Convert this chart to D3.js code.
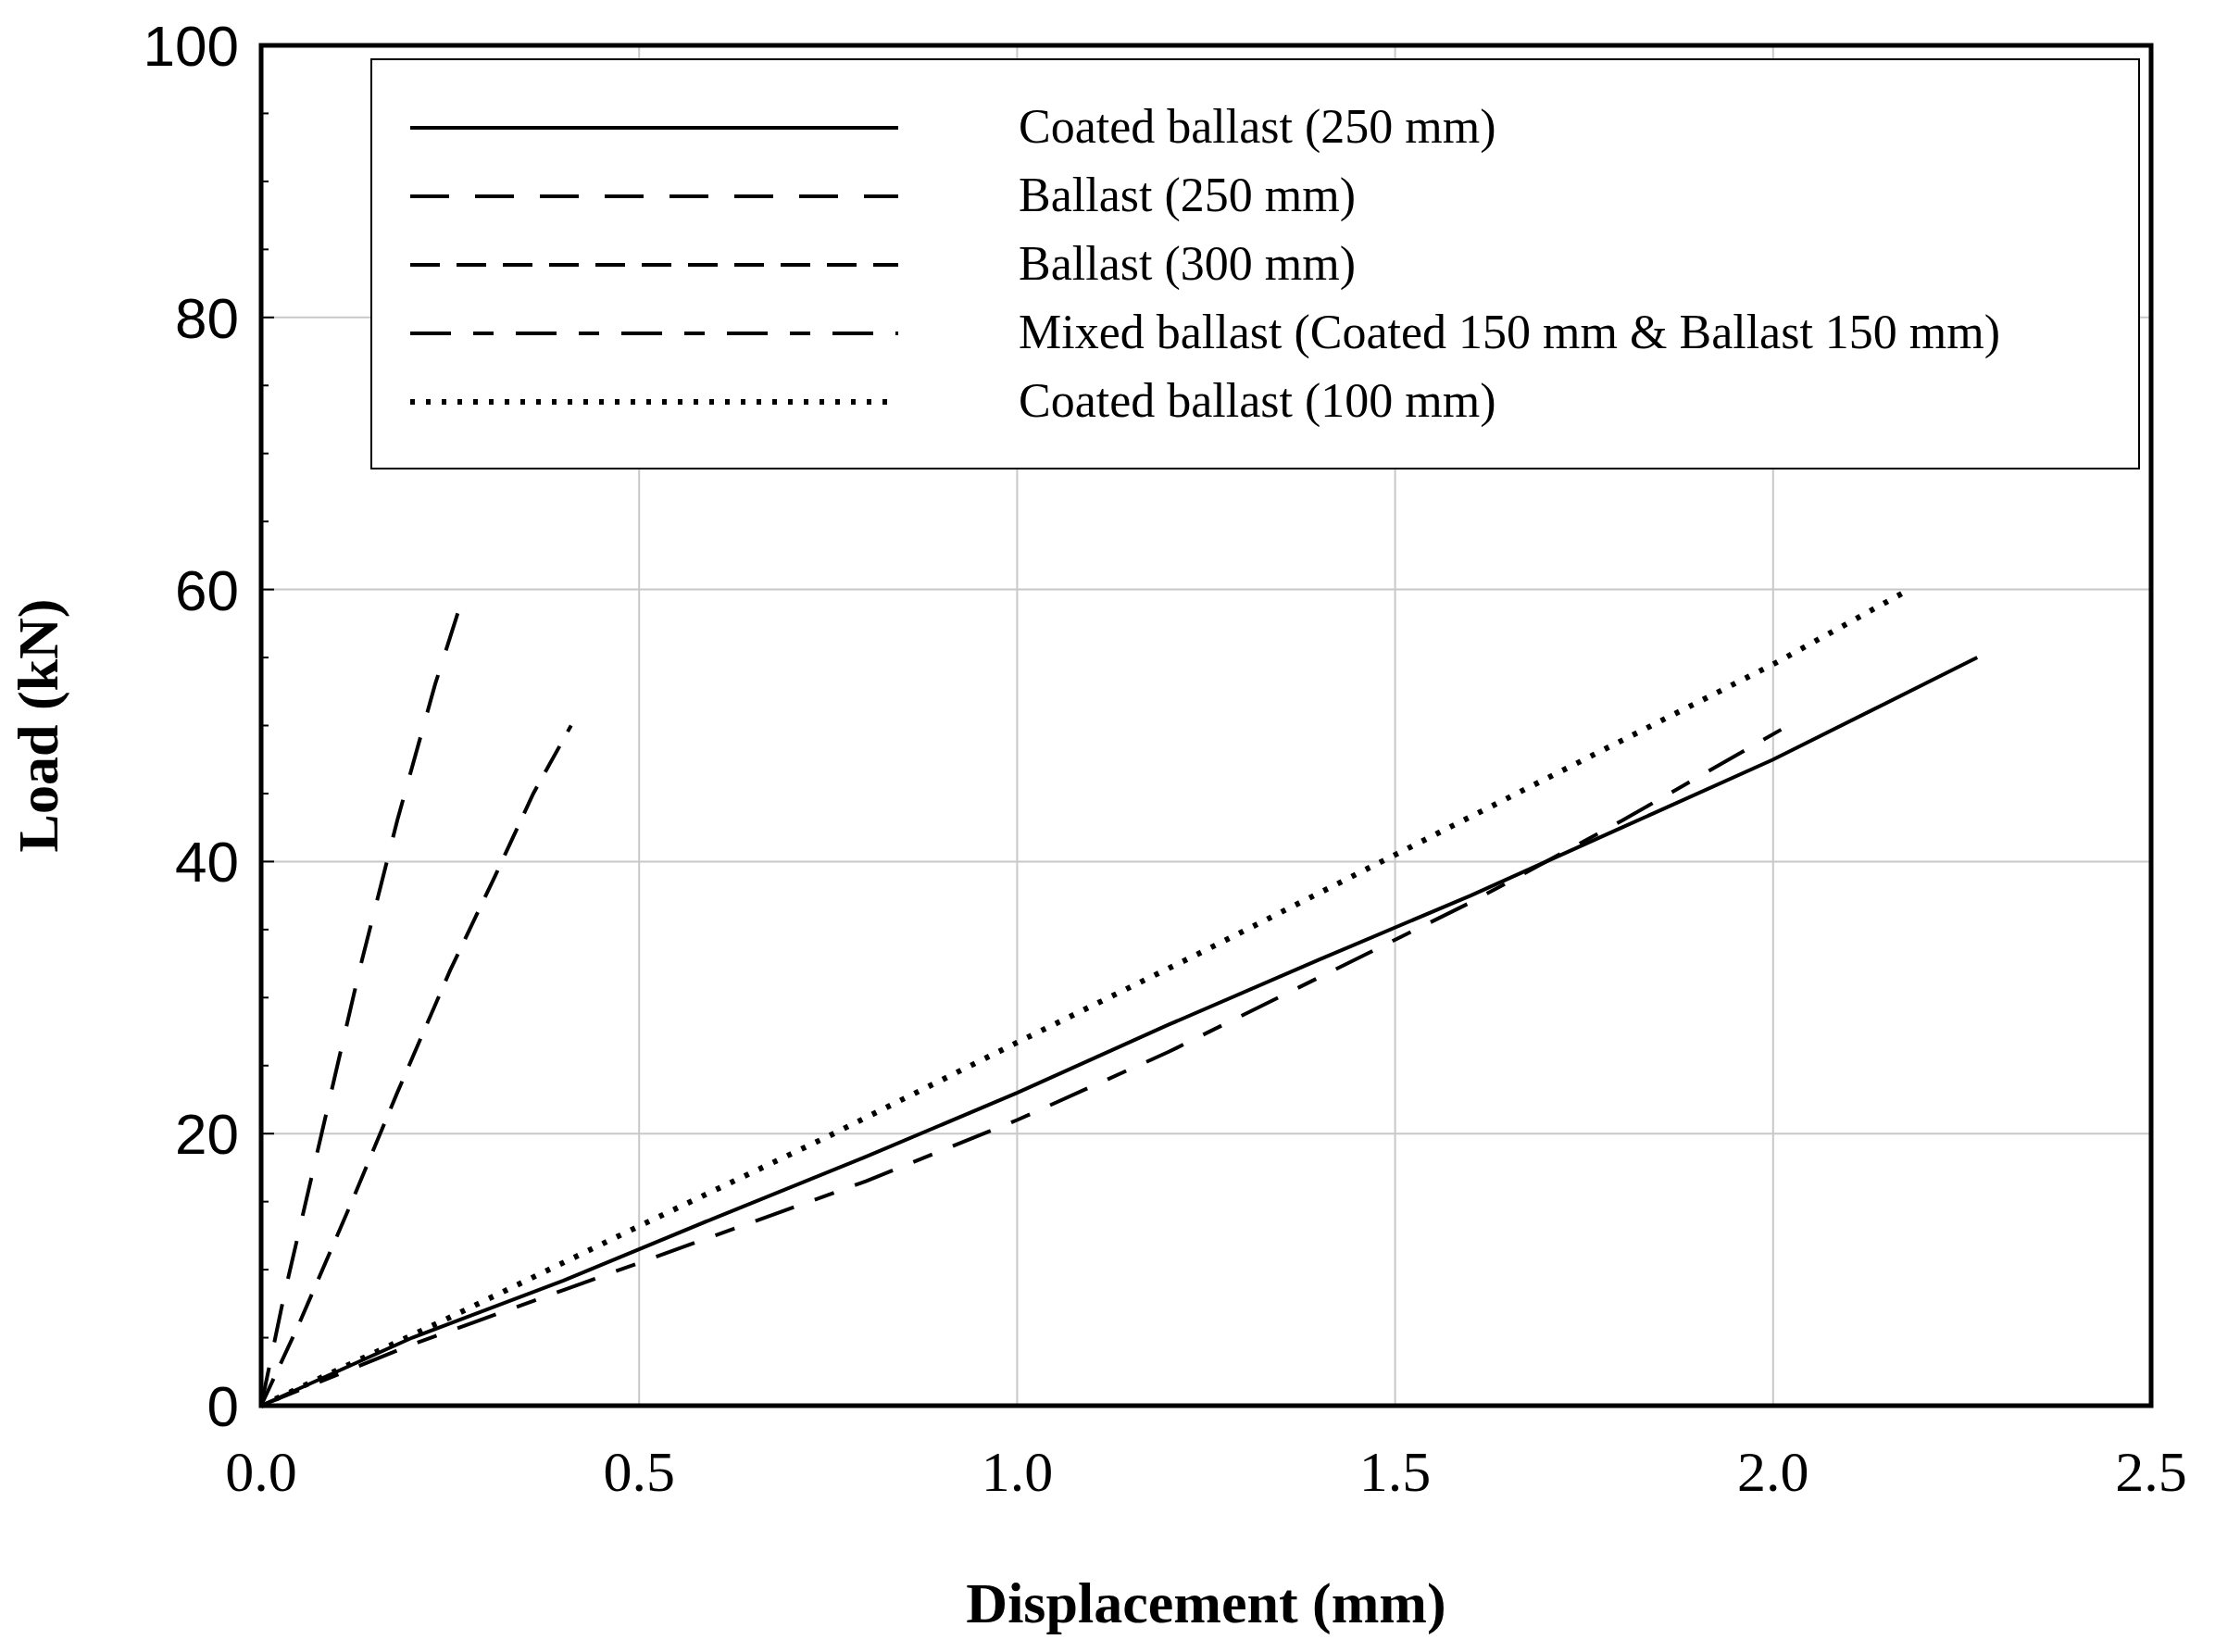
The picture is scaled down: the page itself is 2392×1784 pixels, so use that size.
<!DOCTYPE html><html><head><script src="https://d3js.org/d3.v7.min.js"></script>
<style>body{margin:0;background:#fff}</style></head><body><svg id="c" width="2392" height="1784"></svg>
<script>
const xTicks=[0,0.5,1.0,1.5,2.0,2.5];
const yTicks=[0,20,40,60,80,100];
const seriesNames=["Coated ballast (250 mm)","Ballast (250 mm)","Ballast (300 mm)","Mixed ballast (Coated 150 mm & Ballast 150 mm)","Coated ballast (100 mm)"];
const coated250=[[0,0],[0.2,5],[0.4,9.2],[0.6,13.8],[0.8,18.3],[1.0,23],[1.2,28],[1.4,32.8],[1.6,37.5],[1.8,42.5],[2.0,47.5],[2.27,55]];
const ballast250=[[0,0],[0.03,8],[0.08,20],[0.13,32],[0.18,43],[0.23,53],[0.27,60]];
const ballast300=[[0,0],[0.05,6],[0.12,15],[0.18,23],[0.25,32],[0.31,39],[0.36,45],[0.41,50]];
const mixed=[[0,0],[0.2,4.5],[0.4,8.5],[0.6,12.5],[0.8,16.5],[1.0,21],[1.2,26],[1.4,31.5],[1.6,37],[1.8,43],[2.02,50]];
const coated100=[[0,0],[0.25,6.5],[0.5,13.2],[0.75,19.8],[1.0,26.7],[1.25,33.5],[1.5,40.5],[1.75,47.5],[2.0,54.5],[2.18,60]];
const dashes=[null,"42,28","32,18","44,24,22,24","5,12"];
const data=[coated250,ballast250,ballast300,mixed,coated100];
const svg=d3.select("#c");
const L=282,R=2323,T=49,B=1518;
const x=d3.scaleLinear().domain([0,2.5]).range([L,R]);
const y=d3.scaleLinear().domain([0,100]).range([B,T]);
const g=svg.append("g");
xTicks.slice(1,-1).forEach(v=>g.append("line").attr("x1",x(v)).attr("x2",x(v)).attr("y1",T).attr("y2",B).attr("stroke","#c8c8c8").attr("stroke-width",2));
yTicks.slice(1,-1).forEach(v=>g.append("line").attr("x1",L).attr("x2",R).attr("y1",y(v)).attr("y2",y(v)).attr("stroke","#c8c8c8").attr("stroke-width",2));
d3.range(0,101,5).forEach(v=>g.append("line").attr("x1",L).attr("x2",L+(v%20?8:14)).attr("y1",y(v)).attr("y2",y(v)).attr("stroke","#000").attr("stroke-width",2));
xTicks.forEach(v=>g.append("text").attr("x",x(v)).attr("y",B+92).attr("text-anchor","middle").attr("font-family","Liberation Serif").attr("font-size",62).text(v.toFixed(1)));
yTicks.forEach(v=>g.append("text").attr("x",L-24).attr("y",y(v)+22).attr("text-anchor","end").attr("font-family","Liberation Sans").attr("font-size",62).text(v));
const line=d3.line().x(d=>x(d[0])).y(d=>y(d[1]));
data.forEach((s,i)=>g.append("path").attr("d",line(s)).attr("fill","none").attr("stroke","#000").attr("stroke-width",i==4?6:4).attr("stroke-dasharray",dashes[i]));
g.append("rect").attr("x",L).attr("y",T).attr("width",R-L).attr("height",B-T).attr("fill","none").attr("stroke","#000").attr("stroke-width",5);
g.append("rect").attr("x",401).attr("y",64).attr("width",1909).attr("height",442).attr("fill","#fff").attr("stroke","#000").attr("stroke-width",2);
seriesNames.forEach((n,i)=>{const yy=138+i*74;
g.append("line").attr("x1",443).attr("x2",970).attr("y1",yy).attr("y2",yy).attr("stroke","#000").attr("stroke-width",i==4?6:4).attr("stroke-dasharray",dashes[i]);
g.append("text").attr("x",1100).attr("y",yy+16).attr("font-family","Liberation Serif").attr("font-size",52).text(n);});
g.append("text").attr("x",(L+R)/2).attr("y",1752).attr("text-anchor","middle").attr("font-family","Liberation Serif").attr("font-weight","bold").attr("font-size",62).text("Displacement (mm)");
g.append("text").attr("transform",`translate(62,${(T+B)/2}) rotate(-90)`).attr("text-anchor","middle").attr("font-family","Liberation Serif").attr("font-weight","bold").attr("font-size",62).text("Load (kN)");
</script></body></html>
